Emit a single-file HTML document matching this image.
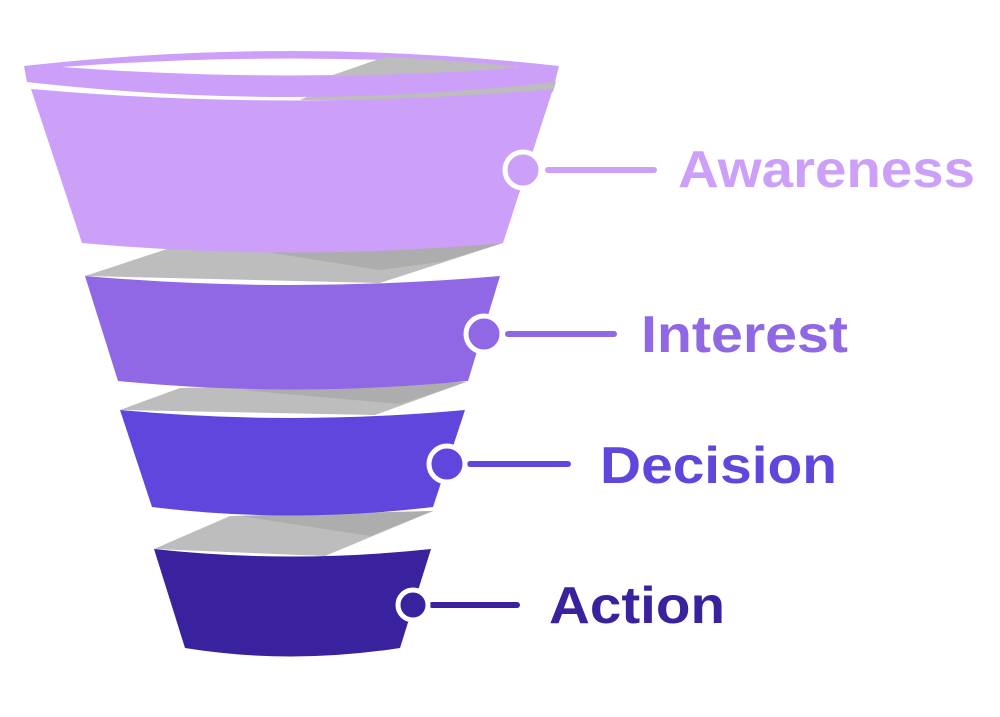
<!DOCTYPE html>
<html><head><style>
body{margin:0;background:#fff;width:1000px;height:712px;overflow:hidden}
text{font-family:"Liberation Sans",sans-serif;font-weight:bold;font-size:52px}
</style></head><body>
<svg width="1000" height="712" viewBox="0 0 1000 712">
<!-- gray connectors -->
<polygon points="85,276 170,248 500,244 380,283" fill="#bdbdbd"/>
<polygon points="260,251 503,243 440,262 380,270" fill="#adadad"/>
<polygon points="120,410 180,388 466,382 375,415" fill="#bdbdbd"/>
<polygon points="240,390 466,382 400,404" fill="#adadad"/>
<polygon points="154,549 230,516 433,511 325,556" fill="#bdbdbd"/>
<polygon points="240,516 433,511 370,536" fill="#adadad"/>
<polygon points="300,100 385,60 520,66 556,82 553,92 420,100" fill="#bdbdbd"/>
<!-- rim -->
<path d="M24,66 Q290,36 559,66 L555,82 Q290,112 27,82 Z" fill="#cca0f8"/>
<path d="M62,67 Q290,50 518,67 Q290,84 62,67 Z" fill="#fff"/>
<path d="M385,57 Q470,61 518,67 Q470,73 330,76 Z" fill="#bdbdbd"/>
<!-- bands -->
<path d="M31,89 Q290,112 553,89 L503,243 Q290,262 82,243 Z" fill="#cca0f8"/>
<path d="M85,276 Q290,294 500,276 L468,381 Q290,398 118,381 Z" fill="#9068e6"/>
<path d="M120,410 Q290,426 465,410 L433,507 Q290,524 152,507 Z" fill="#6046dc"/>
<path d="M154,549 Q290,564 431,549 L400,648 Q290,665 185,648 Z" fill="#3a219e"/>
<!-- markers -->
<g stroke-linecap="round">
<line x1="548" y1="170" x2="654" y2="170" stroke="#cca0f8" stroke-width="6"/>
<circle cx="523" cy="170" r="18" fill="#cca0f8" stroke="#fff" stroke-width="5"/>
<line x1="508" y1="334" x2="614" y2="334" stroke="#9068e6" stroke-width="6"/>
<circle cx="484" cy="334" r="18" fill="#9068e6" stroke="#fff" stroke-width="5"/>
<line x1="470" y1="464" x2="568" y2="464" stroke="#6046dc" stroke-width="6"/>
<circle cx="447" cy="464" r="18" fill="#6046dc" stroke="#fff" stroke-width="5"/>
<line x1="432" y1="605" x2="517" y2="605" stroke="#3a219e" stroke-width="6"/>
<circle cx="413" cy="605" r="15" fill="#3a219e" stroke="#fff" stroke-width="5"/>
</g>
<text x="678" y="187" fill="#cca0f8" textLength="297" lengthAdjust="spacingAndGlyphs">Awareness</text>
<text x="641" y="352" fill="#9068e6" textLength="207" lengthAdjust="spacingAndGlyphs">Interest</text>
<text x="600" y="483" fill="#6046dc" textLength="237" lengthAdjust="spacingAndGlyphs">Decision</text>
<text x="549" y="623" fill="#3a219e" textLength="176" lengthAdjust="spacingAndGlyphs">Action</text>
</svg>
</body></html>
